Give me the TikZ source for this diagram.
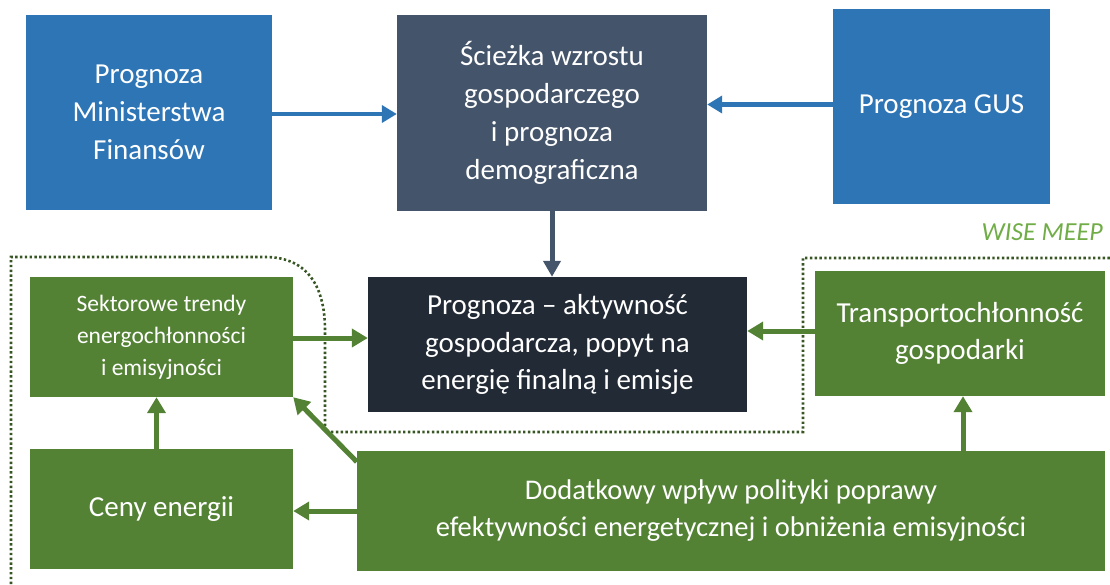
\documentclass[tikz,border=0pt]{standalone}
\usepackage{fontspec}
\setmainfont{Carlito}
\usetikzlibrary{arrows.meta}
\definecolor{cblue}{HTML}{2E75B6}
\definecolor{cslate}{HTML}{44546A}
\definecolor{cdark}{HTML}{222A35}
\definecolor{cgreen}{HTML}{548235}
\definecolor{clgreen}{HTML}{70AD47}
\definecolor{cdgreen}{HTML}{375623}
\tikzset{
  box/.style={draw=none, text=white, align=center, inner sep=0pt},
  bluebox/.style={box, fill=cblue, font=\fontsize{29}{38}\selectfont},
  slatebox/.style={box, fill=cslate, font=\fontsize{29}{38}\selectfont},
  darkbox/.style={box, fill=cdark, font=\fontsize{29}{37.5}\selectfont},
  greenbox/.style={box, fill=cgreen, font=\fontsize{29}{37}\selectfont},
  smallgreen/.style={box, fill=cgreen, font=\fontsize{23.5}{32}\selectfont},
  bluearr/.style={draw=cblue, line width=4.5pt, -{Triangle[length=15pt,width=17pt]}},
  slatearr/.style={draw=cslate, line width=5pt, -{Triangle[length=16pt,width=17pt]}},
  greenarr/.style={draw=cgreen, line width=5pt, -{Triangle[length=16pt,width=18pt]}},
  boundary/.style={draw=cdgreen, line width=2.6pt, dash pattern=on 2.4pt off 2.4pt}
}
\begin{document}
\begin{tikzpicture}[x=1pt,y=-1pt]
\useasboundingbox (0,0) rectangle (1110,584);
\node[bluebox, minimum width=246pt, minimum height=195pt] (mf) at (149,112.5) {Prognoza\\Ministerstwa\\Finansów};
\node[slatebox, minimum width=310pt, minimum height=196pt] (sc) at (552,113) {Ścieżka wzrostu\\gospodarczego\\i prognoza\\demograficzna};
\node[bluebox, minimum width=217pt, minimum height=195pt] (gus) at (941.5,106.5) {Prognoza GUS};
\node[darkbox, minimum width=379pt, minimum height=135pt] (pr) at (557.5,344.5) {Prognoza – aktywność\\gospodarcza, popyt na\\energię finalną i emisje};
\node[smallgreen, minimum width=263pt, minimum height=120pt] (sek) at (161.5,337) {Sektorowe trendy\\energochłonności\\i emisyjności};
\node[greenbox, minimum width=290pt, minimum height=125pt] (tr) at (960,333.5) {Transportochłonność\\gospodarki};
\node[greenbox, minimum width=263pt, minimum height=120pt] (ceny) at (161.5,509) {Ceny energii};
\node[greenbox, font=\fontsize{28.5}{37}\selectfont, minimum width=748pt, minimum height=120pt] (dod) at (731,511) {Dodatkowy wpływ polityki poprawy\\efektywności energetycznej i obniżenia emisyjności};
\node[anchor=east, text=clgreen, font=\fontsize{26}{28}\selectfont\itshape, inner sep=0pt] (wise) at (1103,232) {WISE MEEP};

\coordinate (b1) at (11,584);
\coordinate (b2) at (1110,258);
\draw[boundary] (b1) -- (11,257) -- (265,257) .. controls (310,257) and (325,290) .. (325,330) -- (325,432) -- (803,432) -- (803,258) -- (b2);

\coordinate (mfA) at ([yshift=-1.5pt]mf.east);
\coordinate (gusA) at ([yshift=2pt]gus.west);
\coordinate (sekA) at ([yshift=-1pt]sek.east);
\coordinate (trA) at ([yshift=2.5pt]tr.west);
\coordinate (cenyA) at ([xshift=-5pt]ceny.north);
\coordinate (sekB) at ([xshift=-5pt]sek.south);
\coordinate (dodA) at (dod.west);
\coordinate (trB) at ([xshift=3pt]tr.south);
\coordinate (dodB) at ([yshift=-11pt]dod.north west);

\draw[bluearr] (mfA) -- (sc.west |- mfA);
\draw[bluearr] (gusA) -- (sc.east |- gusA);
\draw[slatearr] (sc.south) -- (sc.south |- pr.north);
\draw[greenarr] (sekA) -- (pr.west |- sekA);
\draw[greenarr] (trA) -- (pr.east |- trA);
\draw[greenarr] (cenyA) -- (sekB);
\draw[greenarr] (dodA) -- (ceny.east |- dodA);
\draw[greenarr] (dod.north -| trB) -- (trB);
\draw[greenarr] (dodB) -- (sek.south east);
\end{tikzpicture}
\end{document}
